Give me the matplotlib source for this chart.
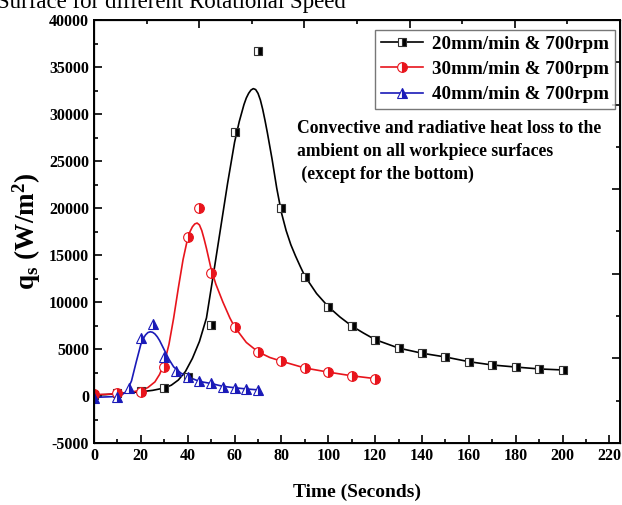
import matplotlib
matplotlib.use("Agg")
import matplotlib.pyplot as plt
from matplotlib.lines import Line2D
from matplotlib.ticker import MultipleLocator

plt.rcParams["font.family"] = ["Liberation Serif", "DejaVu Serif"]
plt.rcParams["font.weight"] = "bold"
plt.rcParams["axes.unicode_minus"] = False
plt.rcParams["mathtext.fontset"] = "custom"
plt.rcParams["mathtext.rm"] = "Liberation Serif:bold"
plt.rcParams["mathtext.bf"] = "Liberation Serif:bold"
plt.rcParams["mathtext.it"] = "Liberation Serif:bold"

labels = ["20mm/min & 700rpm", "30mm/min & 700rpm", "40mm/min & 700rpm"]
colors = ["black", "#e8141c", "#1a1ab8"]

# measured points
t20 = [0, 10, 20, 30, 40, 50, 60, 70, 80, 90, 100, 110, 120, 130, 140, 150,
       160, 170, 180, 190, 200]
q20 = [100, 280, 500, 810, 2060, 7550, 28100, 36700, 20000, 12660, 9470, 7450,
       5960, 5100, 4570, 4150, 3620, 3300, 3090, 2870, 2770]

t30 = [0, 10, 20, 30, 40, 45, 50, 60, 70, 80, 90, 100, 110, 120]
q30 = [200, 300, 450, 3050, 16900, 19950, 13100, 7330, 4650, 3680, 2960, 2530,
       2150, 1850]

t40 = [0, 10, 15, 20, 25, 30, 35, 40, 45, 50, 55, 60, 65, 70]
q40 = [-250, -70, 900, 6200, 7650, 4200, 2700, 2050, 1550, 1350, 1000, 880,
       750, 650]

# fitted curves
ct20 = [0, 5, 10, 15, 20, 25, 30, 33, 36, 39, 42, 45, 48, 51, 54, 57, 60, 62,
        64, 65, 66, 67, 68, 69, 70, 71, 72, 73, 74, 76, 78, 80, 82, 84, 86, 88,
        90, 95, 100, 105, 110, 115, 120, 130, 140, 150, 160, 170, 180, 190, 200]
cq20 = [100, 150, 250, 350, 450, 600, 850, 1150, 1700, 2600, 4000, 5800, 8300,
        13000, 17800, 22600, 27000, 29200, 31000, 31700, 32200, 32550, 32700,
        32600, 32200, 31500, 30500, 29300, 28000, 25200, 22100, 19500, 17600,
        16100, 14900, 13800, 12750, 10900, 9500, 8400, 7450, 6700, 6000, 5100,
        4550, 4150, 3650, 3300, 3080, 2880, 2770]

ct30 = [0, 5, 10, 15, 20, 23, 26, 28, 30, 32, 34, 36, 38, 40, 41, 42, 43, 44,
        45, 46, 47, 48, 49, 50, 52, 55, 58, 60, 65, 70, 75, 80, 90, 100, 110,
        120]
cq30 = [150, 180, 250, 380, 600, 900, 1500, 2300, 3500, 5500, 8300, 11500,
        14500, 16800, 17500, 18000, 18300, 18400, 18200, 17600, 16700, 15700,
        14600, 13500, 11900, 10000, 8300, 7350, 5700, 4700, 4100, 3700, 2980,
        2540, 2150, 1850]

ct40 = [0, 5, 10, 12, 14, 16, 18, 20, 21, 22, 23, 24, 25, 26, 27, 28, 30, 32,
        34, 37, 40, 45, 50, 55, 60, 65, 70]
cq40 = [-150, -100, -50, 150, 500, 1600, 3600, 5500, 6100, 6500, 6750, 6830,
        6780, 6600, 6300, 5900, 4900, 3900, 3100, 2450, 2050, 1550, 1330, 1030,
        880, 750, 650]

fig = plt.figure(figsize=(6.22, 5.05), dpi=100)
ax = fig.add_axes([94 / 622, 62 / 505, 526 / 622, 423 / 505])

curves = [(ct20, cq20), (ct30, cq30), (ct40, cq40)]
points = [(t20, q20, "s", 6), (t30, q30, "o", 7), (t40, q40, "^", 7)]

for (ct, cq), c in zip(curves, colors):
    ax.plot(ct, cq, color=c, lw=1.2, zorder=2)

handles = []
for (t, q, m, ms), c, lab in zip(points, colors, labels):
    ec = c if c != "black" else "#333333"
    ax.plot(t, q, ls="none", marker=m, ms=ms, fillstyle="right",
            markerfacecolor=c, markerfacecoloralt="white",
            markeredgecolor=ec, mew=0.8, zorder=3)
    handles.append(Line2D([], [], color=c, lw=1.2, marker=m, ms=ms,
                          fillstyle="right", markerfacecolor=c,
                          markerfacecoloralt="white", markeredgecolor=ec,
                          mew=0.8, label=lab))

ax.set_xlim(0, 224.5)
ax.set_ylim(-5000, 40000)
ax.xaxis.set_major_locator(MultipleLocator(20))
ax.xaxis.set_minor_locator(MultipleLocator(10))
ax.yaxis.set_major_locator(MultipleLocator(5000))
ax.yaxis.set_minor_locator(MultipleLocator(2500))
ax.tick_params(which="both", direction="in", width=1.2, labelsize=11.5)
ax.tick_params(which="major", length=6)
ax.tick_params(which="minor", length=3)
for s in ax.spines.values():
    s.set_linewidth(1.4)

# opposite axes with their own ten divisions
top = ax.twiny()
top.set_xlim(0, 10)
top.xaxis.set_major_locator(MultipleLocator(2))
top.xaxis.set_minor_locator(MultipleLocator(1))
top.tick_params(which="both", direction="in", width=1.2, labeltop=False)
top.tick_params(which="major", length=6)
top.tick_params(which="minor", length=3)
right = ax.twinx()
right.set_ylim(0, 10)
right.yaxis.set_major_locator(MultipleLocator(2))
right.yaxis.set_minor_locator(MultipleLocator(1))
right.tick_params(which="both", direction="in", width=1.2, labelright=False)
right.tick_params(which="major", length=6)
right.tick_params(which="minor", length=3)

ax.set_xlabel("Time (Seconds)", fontsize=14, fontweight="bold", labelpad=14)
ax.set_ylabel(r"$\mathbf{q_s\ (W/m^2)}$", fontsize=19.5, labelpad=4)

ax.text(86.5, 29350, "Convective and radiative heat loss to the\n"
        "ambient on all workpiece surfaces\n (except for the bottom)",
        fontsize=12.7, va="top", ha="left", linespacing=1.45)

leg = right.legend(handles=handles, loc="upper right", fontsize=13.7,
                   bbox_to_anchor=(0.9905, 0.977), borderaxespad=0,
                   frameon=True, fancybox=False, handlelength=2.2,
                   borderpad=0.3, labelspacing=0.42, handletextpad=0.5)
leg.get_frame().set_edgecolor("#555555")
leg.get_frame().set_linewidth(1.0)

fig.text(-0.005, 1 - 8 / 505, "Surface for different Rotational Speed",
         fontsize=16.5, fontweight="normal", va="baseline", ha="left")

fig.savefig("out.png", dpi=100)
